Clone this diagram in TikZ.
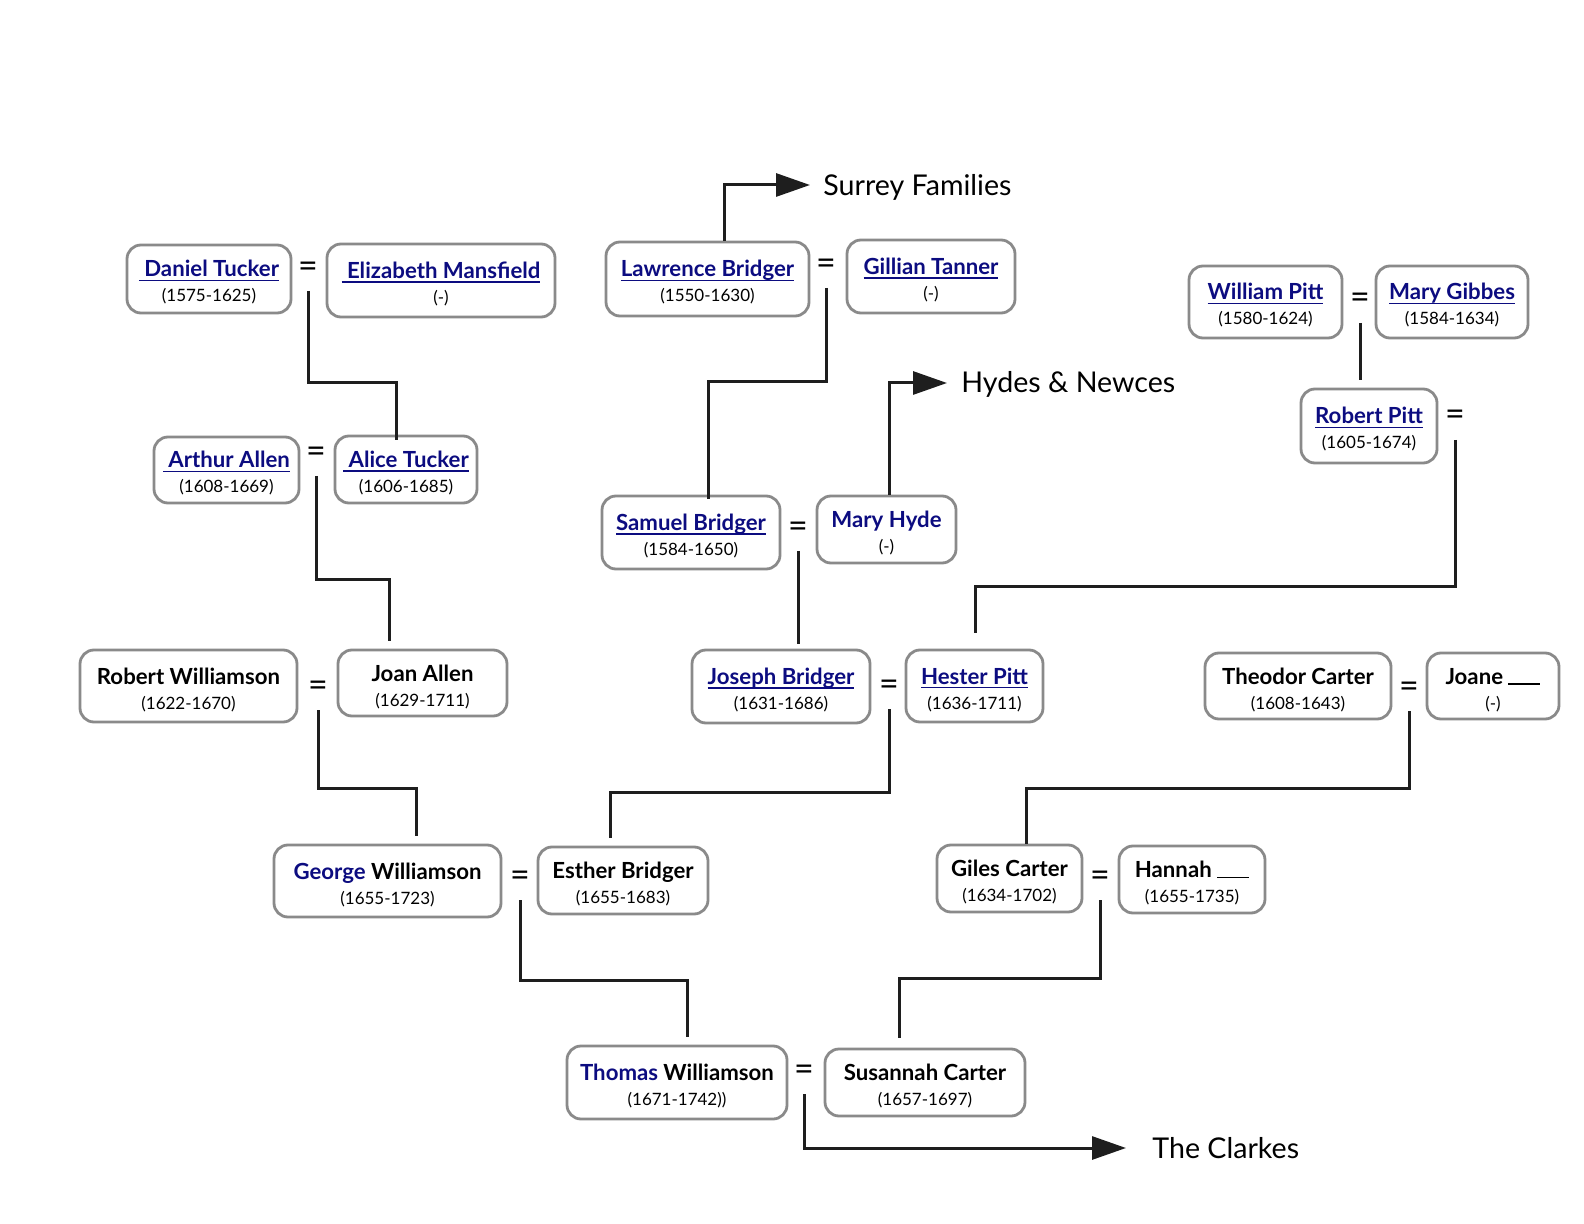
\documentclass[tikz,border=0pt]{standalone}
\usepackage{fontspec}
\setmainfont{Lato}
\usetikzlibrary{fit,arrows.meta}
\definecolor{lnk}{RGB}{12,12,128}
\definecolor{bgray}{RGB}{138,138,138}
\definecolor{ink}{RGB}{30,30,30}
\newcommand\lk[1]{{\color{lnk}\sbox0{#1}\rlap{\rule[-2.2pt]{\wd0}{0.75pt}}\usebox0}}
\newcommand\bl[1]{{\color{lnk}#1}}
\newcommand\blank{\rule[-0.3pt]{16pt}{0.7pt}}
\tikzset{
  pbox/.style={draw=bgray, line width=1.4pt, rounded corners=7pt, inner sep=0pt},
  nm/.style={anchor=base, inner sep=0pt, font=\fontsize{11.1}{13}\selectfont\bfseries},
  dt/.style={anchor=base, inner sep=0pt, font=\fontsize{8.5}{10}\selectfont},
  eqs/.style={inner sep=0pt, font=\fontsize{17}{19}\selectfont},
  wire/.style={draw=ink, line width=1.5pt},
  arr/.style={wire, -{Triangle[length=17pt,width=11.5pt]}},
  fam/.style={anchor=west, inner sep=0pt, font=\fontsize{14.3}{16}\selectfont},
}
\newcommand\pers[7]{%
  \node[pbox, fit={(#2,#3) (#4,#5)}] (#1) {};
  \node[nm] (#1-n) at ([yshift=1pt]#1.center) {#6};
  \node[dt] (#1-d) at ([yshift=-11.5pt]#1.center) {#7};}
\begin{document}
\begin{tikzpicture}[x=0.5pt,y=-0.5pt]
\path[use as bounding box, fill=white] (0,0) rectangle (1584,1224);

% people
\pers{tucker}{127}{245}{291}{313}{\lk{\ Daniel Tucker}}{(1575-1625)}
\pers{mansf}{327}{244}{555}{317}{\lk{\ Elizabeth Mansfield}}{(-)}
\pers{lawr}{606}{242}{809}{316}{\lk{Lawrence Bridger}}{(1550-1630)}
\pers{gill}{847}{240}{1015}{313}{\lk{Gillian Tanner}}{(-)}
\pers{wpitt}{1189}{266}{1342}{338}{\lk{William Pitt}}{(1580-1624)}
\pers{gibbes}{1376}{266}{1528}{338}{\lk{Mary Gibbes}}{(1584-1634)}
\pers{rpitt}{1301}{389}{1437}{463}{\lk{Robert Pitt}}{(1605-1674)}
\pers{arthur}{154}{437}{299}{503}{\lk{\ Arthur Allen}}{(1608-1669)}
\pers{alice}{335}{436}{477}{503}{\lk{\ Alice Tucker}}{(1606-1685)}
\pers{samuel}{602}{496}{780}{569}{\lk{Samuel Bridger}}{(1584-1650)}
\pers{hyde}{817}{496}{956}{563}{\bl{Mary Hyde}}{(-)}
\pers{robw}{80}{650}{297}{722}{Robert Williamson}{(1622-1670)}
\pers{joan}{338}{650}{507}{716}{Joan Allen}{(1629-1711)}
\pers{joseph}{692}{650}{870}{723}{\lk{Joseph Bridger}}{(1631-1686)}
\pers{hester}{906}{650}{1043}{722}{\lk{Hester Pitt}}{(1636-1711)}
\pers{theo}{1205}{653}{1391}{719}{Theodor Carter}{(1608-1643)}
\pers{joane}{1427}{653}{1559}{719}{Joane \blank}{(-)}
\pers{george}{274}{845}{501}{917}{\bl{George} Williamson}{(1655-1723)}
\pers{esther}{538}{847}{708}{914}{Esther Bridger}{(1655-1683)}
\pers{giles}{937}{845}{1082}{912}{Giles Carter}{(1634-1702)}
\pers{hannah}{1119}{846}{1265}{913}{Hannah \blank}{(1655-1735)}
\pers{thomas}{567}{1046}{787}{1119}{\bl{Thomas} Williamson}{(1671-1742))}
\pers{susan}{825}{1049}{1025}{1116}{Susannah Carter}{(1657-1697)}

% equal signs
\node[eqs] (e1) at (308,270) {=};
\node[eqs] (e2) at (826,267) {=};
\node[eqs] (e3) at (1360,301) {=};
\node[eqs] (e4) at (1455,418) {=};
\node[eqs] (e5) at (316,455) {=};
\node[eqs] (e6) at (798,530) {=};
\node[eqs] (e7) at (318,689) {=};
\node[eqs] (e8) at (889,688) {=};
\node[eqs] (e9) at (1409,690) {=};
\node[eqs] (e10) at (520,879) {=};
\node[eqs] (e11) at (1100,879) {=};
\node[eqs] (e12) at (804,1073) {=};

% family labels
\node[fam] (sur) at (823,187) {Surrey Families};
\node[fam] (hyd) at (961,384) {Hydes \& Newces};
\node[fam] (clk) at (1152,1148) {The Clarkes};

% joints
\coordinate (j1) at (396,383);
\coordinate (j2) at (708,382);
\coordinate (j3) at (724,185);
\coordinate (j4) at (889,383);
\coordinate (j6) at (975,586);
\coordinate (j7) at (389,579);
\coordinate (j9) at (416,788);
\coordinate (j10) at (610,792);
\coordinate (j11) at (1026,788);
\coordinate (j12) at (687,980);
\coordinate (j13) at (899,978);

% connectors
\draw[wire, shorten >=-2.5pt] ([yshift=-10.5pt]e1.center) |- (j1) -- (j1 |- alice.north);
\draw[wire, shorten >=-2pt] ([yshift=-10.5pt]e2.center) |- (j2) -- (j2 |- samuel.north);
\draw[arr] (lawr.north -| j3) -- (j3) -- ([xshift=-6.5pt]j3 -| sur.west);
\draw[arr] (hyde.north -| j4) -- (j4) -- ([xshift=-7pt]j4 -| hyd.west);
\draw[wire, shorten >=4pt] ([yshift=-11pt]e3.center) -- (e3.center |- rpitt.north);
\draw[wire, shorten >=8pt] ([yshift=-11pt]e4.center) |- (j6) -- (j6 |- hester.north);
\draw[wire, shorten >=4pt] ([yshift=-10.5pt]e5.center) |- (j7) -- (j7 |- joan.north);
\draw[wire, shorten >=2.5pt] ([yshift=-10.5pt]e6.center) -- (e6.center |- joseph.north);
\draw[wire, shorten >=4pt] ([yshift=-10.5pt]e7.center) |- (j9) -- (j9 |- george.north);
\draw[wire, shorten >=4pt] ([yshift=-10.5pt]e8.center) |- (j10) -- (j10 |- esther.north);
\draw[wire] ([yshift=-10.5pt]e9.center) |- (j11) -- (j11 |- giles.north);
\draw[wire, shorten >=4pt] ([yshift=-10.5pt]e10.center) |- (j12) -- (j12 |- thomas.north);
\draw[wire, shorten >=5pt] ([yshift=-10.5pt]e11.center) |- (j13) -- (j13 |- susan.north);
\draw[arr] ([yshift=-10.5pt]e12.center) |- ([xshift=-13pt]clk.west);
\end{tikzpicture}
\end{document}
